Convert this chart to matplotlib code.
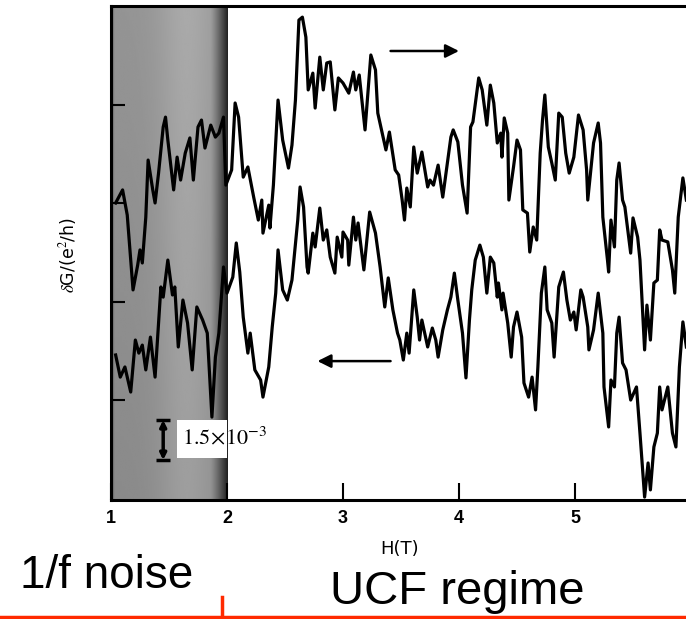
import numpy as np
import matplotlib
matplotlib.use("Agg")
import matplotlib.pyplot as plt
from matplotlib.lines import Line2D
from matplotlib.patches import Rectangle

# ---- data (H in T, dG in 1e-3 e^2/h, arbitrary offset) ----
H_UP = [1.04, 1.10, 1.14, 1.19, 1.23, 1.25, 1.27, 1.30, 1.32, 1.36, 1.38, 1.41, 1.45, 1.47,
        1.49, 1.54, 1.57, 1.60, 1.64, 1.68, 1.71, 1.75, 1.78, 1.81, 1.86, 1.90, 1.93, 1.97,
        1.99, 2.04, 2.07, 2.10, 2.14, 2.18, 2.23, 2.27, 2.30, 2.31, 2.36, 2.37, 2.40, 2.44,
        2.48, 2.53, 2.56, 2.59, 2.62, 2.65, 2.68, 2.70, 2.74, 2.76, 2.80, 2.83, 2.86, 2.89,
        2.93, 2.96, 3.00, 3.05, 3.09, 3.11, 3.14, 3.19, 3.24, 3.28, 3.30, 3.37, 3.40, 3.45,
        3.48, 3.51, 3.53, 3.55, 3.58, 3.61, 3.64, 3.68, 3.73, 3.75, 3.78, 3.82, 3.86, 3.93,
        3.95, 3.99, 4.03, 4.07, 4.10, 4.12, 4.17, 4.20, 4.24, 4.27, 4.30, 4.33, 4.36, 4.37,
        4.39, 4.42, 4.43, 4.47, 4.50, 4.53, 4.55, 4.59, 4.61, 4.64, 4.67, 4.70, 4.72, 4.74,
        4.77, 4.80, 4.83, 4.86, 4.89, 4.92, 4.95, 4.99, 5.03, 5.07, 5.10, 5.11, 5.16, 5.20,
        5.22, 5.24, 5.28, 5.29, 5.31, 5.34, 5.36, 5.38, 5.41, 5.43, 5.48, 5.50, 5.54, 5.56,
        5.60, 5.62, 5.65, 5.68, 5.71, 5.73, 5.75, 5.80, 5.84, 5.86, 5.89, 5.93, 5.96]
DG_UP = [11.14, 11.63, 10.69, 7.88, 8.81, 9.38, 8.89, 10.61, 12.75, 11.63, 11.14, 12.26, 13.99, 14.36,
         13.50, 11.63, 12.86, 12.00, 13.01, 13.58, 12.00, 13.99, 14.25, 13.20, 14.06, 13.61, 13.76, 14.36,
         11.81, 12.38, 14.89, 14.36, 12.11, 12.49, 11.36, 10.50, 11.25, 10.01, 11.06, 10.20, 11.81, 15.00,
         13.50, 12.45, 13.31, 15.00, 18.00, 18.11, 17.36, 15.38, 16.01, 14.70, 16.61, 15.38, 16.39, 16.43,
         14.63, 15.83, 15.64, 15.26, 16.05, 15.38, 15.94, 13.88, 16.69, 16.13, 14.51, 13.13, 13.80, 12.38,
         12.19, 11.25, 10.50, 11.70, 10.99, 13.24, 12.26, 13.05, 11.74, 12.00, 11.81, 12.56, 11.36, 13.61,
         13.88, 13.43, 11.81, 10.76, 13.99, 14.18, 15.83, 15.38, 14.06, 15.56, 14.89, 13.39, 13.76, 12.86,
         14.33, 13.76, 11.25, 12.49, 13.50, 13.13, 10.88, 10.76, 9.30, 10.24, 9.75, 13.01, 14.25, 15.19,
         13.24, 12.64, 12.00, 14.51, 14.36, 13.01, 12.26, 12.86, 14.44, 13.88, 12.38, 11.25, 13.39, 14.14,
         13.39, 10.61, 9.00, 8.55, 10.50, 9.49, 12.00, 12.64, 11.25, 10.99, 9.26, 10.58, 9.86, 9.00,
         5.63, 7.31, 6.00, 8.14, 8.25, 10.13, 9.75, 9.68, 8.63, 7.76, 10.61, 12.08, 11.25]

H_DOWN = [1.04, 1.08, 1.12, 1.17, 1.21, 1.24, 1.27, 1.30, 1.34, 1.38, 1.43, 1.45, 1.49, 1.53,
          1.55, 1.58, 1.62, 1.66, 1.70, 1.74, 1.79, 1.83, 1.87, 1.90, 1.93, 1.97, 2.00, 2.05,
          2.08, 2.11, 2.14, 2.18, 2.20, 2.24, 2.29, 2.31, 2.36, 2.39, 2.42, 2.44, 2.48, 2.52,
          2.56, 2.61, 2.63, 2.66, 2.69, 2.70, 2.74, 2.76, 2.80, 2.83, 2.86, 2.89, 2.93, 2.95,
          2.99, 3.00, 3.04, 3.05, 3.09, 3.11, 3.13, 3.18, 3.23, 3.28, 3.32, 3.36, 3.39, 3.43,
          3.47, 3.49, 3.52, 3.55, 3.57, 3.61, 3.64, 3.66, 3.68, 3.73, 3.77, 3.80, 3.82, 3.86,
          3.90, 3.93, 3.96, 3.99, 4.03, 4.06, 4.09, 4.11, 4.14, 4.18, 4.21, 4.24, 4.27, 4.30,
          4.33, 4.34, 4.37, 4.38, 4.42, 4.45, 4.47, 4.50, 4.54, 4.56, 4.60, 4.63, 4.66, 4.68,
          4.71, 4.74, 4.76, 4.80, 4.82, 4.86, 4.90, 4.93, 4.96, 4.99, 5.01, 5.05, 5.07, 5.11,
          5.12, 5.16, 5.20, 5.24, 5.25, 5.29, 5.31, 5.34, 5.36, 5.38, 5.41, 5.44, 5.48, 5.53,
          5.56, 5.60, 5.63, 5.65, 5.68, 5.71, 5.73, 5.75, 5.80, 5.84, 5.87, 5.90, 5.93, 5.96]
DG_DOWN = [5.44, 4.61, 4.99, 4.05, 6.00, 5.51, 5.81, 4.88, 6.11, 4.61, 7.99, 7.61, 9.00, 7.69,
           7.99, 5.74, 7.50, 6.64, 4.88, 7.24, 6.75, 6.26, 3.11, 5.36, 6.26, 8.74, 7.76, 8.36,
           9.64, 8.55, 6.86, 5.51, 6.26, 4.88, 4.50, 3.86, 4.99, 6.49, 7.76, 9.38, 7.88, 7.50,
           8.25, 10.50, 11.74, 10.99, 8.74, 8.51, 10.01, 9.49, 10.95, 9.75, 10.13, 9.11, 8.51, 9.86,
           9.11, 10.05, 9.75, 8.81, 10.61, 9.75, 10.39, 8.63, 10.80, 10.01, 8.74, 7.24, 8.33, 7.13,
           6.26, 6.00, 5.25, 6.26, 5.51, 7.88, 6.86, 6.00, 6.75, 5.74, 6.45, 6.00, 5.36, 6.38,
           7.13, 7.61, 8.51, 7.50, 6.26, 4.58, 6.75, 7.88, 9.00, 9.56, 9.11, 7.76, 9.11, 8.89,
           7.61, 8.14, 7.13, 7.76, 6.64, 5.36, 6.49, 7.05, 6.11, 4.39, 3.86, 4.61, 3.38, 4.99,
           7.76, 8.74, 7.13, 6.64, 5.36, 7.99, 8.55, 7.50, 6.75, 7.05, 6.38, 7.88, 7.61, 6.49,
           5.63, 6.38, 7.76, 6.26, 4.24, 2.74, 4.50, 4.24, 6.26, 6.86, 5.14, 4.88, 3.75, 4.24,
           2.51, 0.11, 1.39, 0.38, 1.99, 2.51, 4.24, 3.38, 4.24, 2.51, 1.99, 4.99, 6.68, 5.74]

X_TICKS = [1, 2, 3, 4, 5, 6]
NOISE_REGION = (1.0, 2.0)   # field range dominated by 1/f noise (shaded)
SCALE_BAR = 1.5             # 1.5 x 10^-3 e^2/h

plt.rcParams["font.family"] = ["Liberation Sans", "DejaVu Sans"]
plt.rcParams["mathtext.fontset"] = "stix"

fig = plt.figure(figsize=(6.86, 6.19), dpi=100)
ax = fig.add_axes([0.1618, 0.1922, 0.8624, 0.798])
ax.set_xlim(1.0, 6.1)
ax.set_ylim(0.0, 18.525)

# shaded "1/f noise" band: mid grey, going almost black at its right edge
u = np.linspace(0, 1, 300)
v = np.linspace(0, 1, 120)
band = 0.57 + 0.08 * np.exp(-((u - 0.65) / 0.25) ** 2)
band = band - 0.45 * np.clip((u - 0.85) / 0.15, 0, 1) ** 1.2
band = band - 0.25 * np.clip((0.03 - u) / 0.03, 0, 1)
shade = np.outer(0.95 + 0.07 * v, band)
ax.imshow(shade, extent=(NOISE_REGION[0], NOISE_REGION[1], 0, 18.525), origin="lower",
          cmap="gray", vmin=0, vmax=1, aspect="auto", interpolation="bilinear", zorder=0)

# the two field sweeps
ax.plot(H_UP, DG_UP, color="black", lw=2.3, solid_joinstyle="round", zorder=3)
ax.plot(H_DOWN, DG_DOWN, color="black", lw=2.3, solid_joinstyle="round", zorder=3)

# sweep direction arrows
ax.annotate("", xy=(4.00, 16.84), xytext=(3.41, 16.84),
            arrowprops=dict(arrowstyle="-|>", color="black", lw=1.8, mutation_scale=20,
                            shrinkA=0, shrinkB=0))
ax.annotate("", xy=(2.78, 5.21), xytext=(3.41, 5.21),
            arrowprops=dict(arrowstyle="-|>", color="black", lw=1.8, mutation_scale=20,
                            shrinkA=0, shrinkB=0))

# scale bar with its white label box
ax.add_patch(Rectangle((1.57, 1.57), 0.43, 1.43, facecolor="white", edgecolor="none", zorder=1))
ax.annotate("", xy=(1.45, 1.5 + SCALE_BAR), xytext=(1.45, 1.5),
            arrowprops=dict(arrowstyle="<|-|>", color="black", lw=2.5, mutation_scale=9,
                            shrinkA=0, shrinkB=0), zorder=4)
ax.hlines([1.5, 1.5 + SCALE_BAR], 1.39, 1.51, colors="black", lw=2.5, zorder=4)
ax.text(1.61, 2.33, r"$1.5\!\times\!10^{-3}$", fontsize=16, va="center", ha="left", zorder=4)

# axes styling
for side in ["left", "bottom", "top"]:
    ax.spines[side].set_linewidth(2.2)
ax.spines["right"].set_visible(False)
ax.set_xticks(X_TICKS)
ax.set_xticklabels([str(t) for t in X_TICKS], fontweight="bold")
ax.tick_params(axis="x", direction="in", length=12, width=1.5, labelsize=13, pad=7)
ax.set_yticks([3.75, 7.43, 11.14, 14.81])
ax.tick_params(axis="y", direction="in", length=10, width=1.5, labelleft=False)

fig.text(0.099, 0.588, r"$\delta$G/(e$^2$/h)", rotation=90, fontsize=12.5,
         ha="center", va="center", family="DejaVu Sans")
fig.text(0.582, 0.113, "H(T)", fontsize=13, ha="center", va="center", family="DejaVu Sans")
fig.text(0.029, 0.050, "1/f noise", fontsize=33, ha="left", va="baseline")
fig.text(0.481, 0.024, "UCF regime", fontsize=34, ha="left", va="baseline")

# red regime markers along the bottom
red = "#ff2a00"
fig.add_artist(Line2D([0.0, 1.0], [0.004, 0.004], transform=fig.transFigure, color=red, lw=2.5))
fig.add_artist(Line2D([0.3236, 0.3236], [0.004, 0.036], transform=fig.transFigure, color=red, lw=2.5))

fig.savefig("out.png", dpi=100)
